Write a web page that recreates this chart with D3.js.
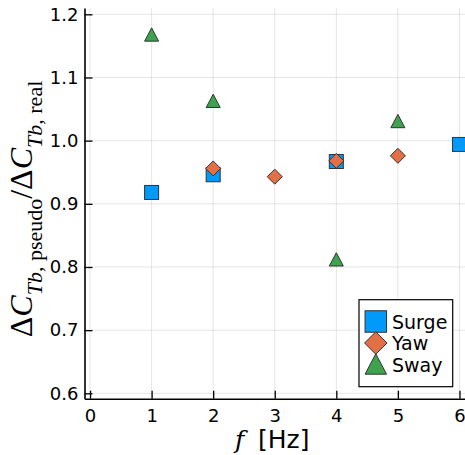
<!DOCTYPE html>
<html>
<head>
<meta charset="utf-8">
<script src="https://cdn.jsdelivr.net/npm/d3@7"></script>
<style>
  html, body { margin: 0; padding: 0; background: #fff; }
  svg { display: block; }
</style>
</head>
<body>
<svg id="chart" width="465" height="455"></svg>
<script>
// ---- data ----
const xTicks = [0, 1, 2, 3, 4, 5, 6];
const yTicks = [0.6, 0.7, 0.8, 0.9, 1.0, 1.1, 1.2];
const surgeX = [1, 2, 4, 6];
const surgeY = [0.918, 0.946, 0.967, 0.994];
const yawX = [2, 3, 4, 5];
const yawY = [0.956, 0.943, 0.968, 0.976];
const swayX = [1, 2, 4, 5];
const swayY = [1.167, 1.062, 0.811, 1.030];
const seriesNames = ["Surge", "Yaw", "Sway"];
const seriesColors = ["#009AFA", "#E26F46", "#3DA44D"];

const svg = d3.select("#chart");
const pL = 84.5, pR = 465, pT = 8, pB = 398.7;

const x = d3.scaleLinear().domain([-0.09, 6.09]).range([pL, pR]);
const y = d3.scaleLinear().domain([0.5915, 1.21]).range([pB, pT]);

// grid
const grid = svg.append("g");
grid.selectAll("line.gx").data(xTicks).enter().append("line")
  .attr("x1", d => x(d)).attr("x2", d => x(d))
  .attr("y1", pT).attr("y2", pB)
  .attr("stroke", "#000").attr("stroke-opacity", 0.1).attr("stroke-width", 1);
grid.selectAll("line.gy").data(yTicks).enter().append("line")
  .attr("x1", pL).attr("x2", pR)
  .attr("y1", d => y(d)).attr("y2", d => y(d))
  .attr("stroke", "#000").attr("stroke-opacity", 0.1).attr("stroke-width", 1);

// axes
const xAxis = d3.axisBottom(x).tickValues(xTicks).tickFormat(d3.format("d"))
  .tickSizeInner(-8).tickSizeOuter(0).tickPadding(11);
const yAxis = d3.axisLeft(y).tickValues(yTicks).tickFormat(d3.format(".1f"))
  .tickSizeInner(-8).tickSizeOuter(0).tickPadding(6);

const gx = svg.append("g").attr("transform", `translate(0,${pB})`).call(xAxis);
const gy = svg.append("g").attr("transform", `translate(${pL},0)`).call(yAxis);
[gx, gy].forEach(g => {
  g.select(".domain").attr("stroke", "#000").attr("stroke-width", 1.6);
  g.selectAll(".tick line").attr("stroke", "#000").attr("stroke-width", 1.3);
  g.selectAll(".tick text").attr("fill", "#000")
    .style("font-family", "'DejaVu Sans', sans-serif").style("font-size", "18px");
});

// markers
function drawMarker(g, type, cx, cy, s, color) {
  if (type === 0) {
    g.append("rect").attr("x", cx - s / 2).attr("y", cy - s / 2)
      .attr("width", s).attr("height", s)
      .attr("fill", color).attr("stroke", "#333").attr("stroke-width", 1);
  } else if (type === 1) {
    const r = s / 2 + 0.5;
    g.append("path")
      .attr("d", `M${cx},${cy - r}L${cx + r},${cy}L${cx},${cy + r}L${cx - r},${cy}Z`)
      .attr("fill", color).attr("stroke", "#333").attr("stroke-width", 1);
  } else {
    const h = s * 0.95, w = s;
    g.append("path")
      .attr("d", `M${cx},${cy - h * 0.55}L${cx + w / 2},${cy + h * 0.45}L${cx - w / 2},${cy + h * 0.45}Z`)
      .attr("fill", color).attr("stroke", "#333").attr("stroke-width", 1);
  }
}

const series = [[surgeX, surgeY], [yawX, yawY], [swayX, swayY]];
const marks = svg.append("g");
series.forEach(([xs, ys], i) => {
  xs.forEach((xv, j) => drawMarker(marks, i, x(xv), y(ys[j]), 14, seriesColors[i]));
});

// legend
const lg = svg.append("g");
lg.append("rect").attr("x", 359).attr("y", 299.7).attr("width", 93.7).attr("height", 87)
  .attr("fill", "#fff").attr("stroke", "#000").attr("stroke-width", 1.2);
const legY = [321.5, 343, 365];
seriesNames.forEach((name, i) => {
  drawMarker(lg, i, 375.8, legY[i], 21.5, seriesColors[i]);
  lg.append("text").attr("x", 392).attr("y", legY[i] + 7.3)
    .style("font-family", "'DejaVu Sans', sans-serif").style("font-size", "19px")
    .text(name);
});

// x label
svg.append("text").attr("x", 235).attr("y", 448)
  .style("font-family", "'DejaVu Serif', serif").style("font-style", "italic")
  .style("font-size", "25px").text("f");
svg.append("text").attr("x", 258).attr("y", 448)
  .style("font-family", "'DejaVu Sans', sans-serif")
  .style("font-size", "25px").text("[Hz]");

// y label
const yl = svg.append("text").attr("transform", "translate(32,209) rotate(-90)")
  .attr("text-anchor", "middle")
  .style("font-family", "'Liberation Serif', serif").style("font-size", "32px");
yl.append("tspan").text("Δ");
yl.append("tspan").style("font-style", "italic").text("C");
yl.append("tspan").attr("dy", 10).style("font-size", "22px").style("font-style", "italic").text("Tb");
yl.append("tspan").style("font-size", "22px").text(", pseudo");
yl.append("tspan").attr("dy", -10).text("/Δ");
yl.append("tspan").style("font-style", "italic").text("C");
yl.append("tspan").attr("dy", 10).style("font-size", "22px").style("font-style", "italic").text("Tb");
yl.append("tspan").style("font-size", "22px").text(", real");
</script>
</body>
</html>
